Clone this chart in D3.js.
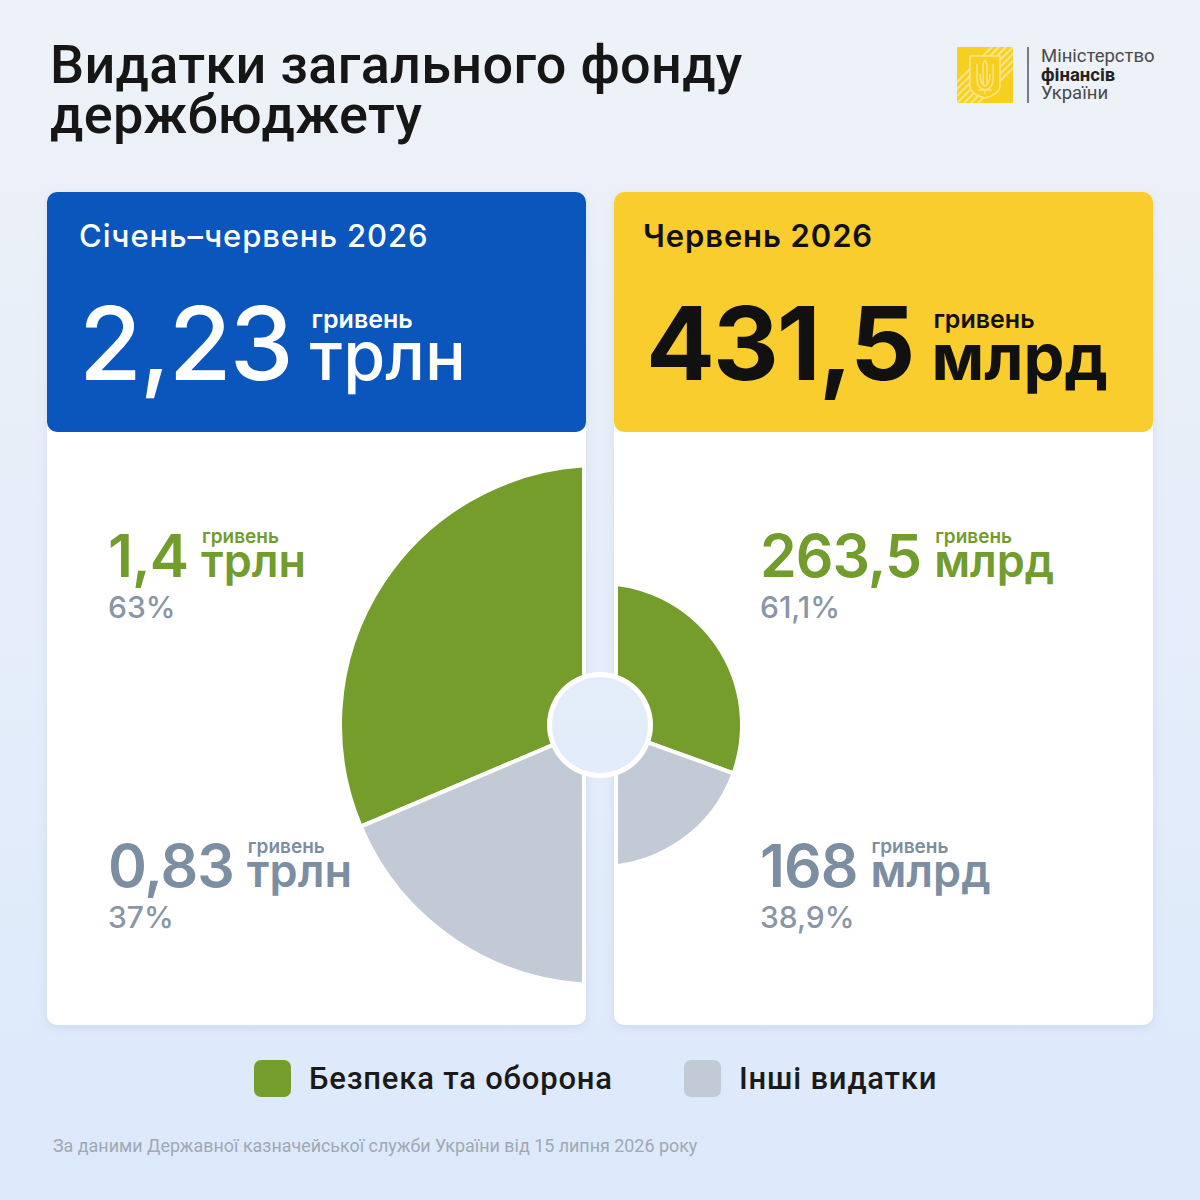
<!DOCTYPE html>
<html lang="uk">
<head>
<meta charset="utf-8">
<script src="https://cdn.jsdelivr.net/npm/d3@7"></script>
<style>
  body { margin: 0; background: #e6eefa; }
  svg { display: block; }
</style>
</head>
<body>
<svg id="chart" width="1200" height="1200"></svg>
<script>
const titleLines = ["Видатки загального фонду", "держбюджету"];
const periods = ["Січень–червень 2026", "Червень 2026"];
const totals = ["2,23", "431,5"];
const units = ["трлн", "млрд"];
const currency = "гривень";
const categories = ["Безпека та оборона", "Інші видатки"];
const halfYearValues = [1.4, 0.83];
const halfYearLabels = ["1,4", "0,83"];
const halfYearShares = ["63%", "37%"];
const juneValues = [263.5, 168];
const juneLabels = ["263,5", "168"];
const juneShares = ["61,1%", "38,9%"];
const ministry = ["Міністерство", "фінансів", "України"];
const source = "За даними Державної казначейської служби України від 15 липня 2026 року";

const width = 1200, height = 1200;
const svg = d3.select("#chart").attr("viewBox", [0, 0, width, height]);
const defs = svg.append("defs");

// page background gradient (also reused for the hole in the middle)
const bg = defs.append("linearGradient")
  .attr("id", "bg")
  .attr("gradientUnits", "userSpaceOnUse")
  .attr("x1", 0).attr("y1", 0).attr("x2", 0).attr("y2", height);
bg.append("stop").attr("offset", 0).attr("stop-color", "#eef2f8");
bg.append("stop").attr("offset", 1).attr("stop-color", "#dce9fb");

const shadow = defs.append("filter").attr("id", "shadow")
  .attr("x", -0.1).attr("y", -0.1).attr("width", 1.2).attr("height", 1.2);
shadow.append("feDropShadow")
  .attr("dx", 0).attr("dy", 3).attr("stdDeviation", 5)
  .attr("flood-color", "#8fa6c4").attr("flood-opacity", 0.22);

svg.append("rect").attr("width", width).attr("height", height).attr("fill", "url(#bg)");

const sliceColor = d3.scaleOrdinal().domain(categories).range(["#759d2c", "#c1cad5"]);
const textColor = d3.scaleOrdinal().domain(categories).range(["#729c2c", "#7c8ea2"]);

// ---- title ----
svg.append("g")
  .selectAll("text")
  .data(titleLines)
  .join("text")
  .attr("x", 50)
  .attr("y", (d, i) => 83 + i * 50)
  .attr("font-family", "Roboto, sans-serif")
  .attr("font-weight", 500)
  .attr("font-size", 54)
  .attr("letter-spacing", 0.3)
  .attr("fill", "#161616")
  .text((d) => d);

// ---- ministry logo ----
const logo = svg.append("g");
defs.append("clipPath").attr("id", "logoClip")
  .append("rect").attr("x", 957).attr("y", 47).attr("width", 56).attr("height", 56);
logo.append("rect").attr("x", 957).attr("y", 47).attr("width", 56).attr("height", 56)
  .attr("fill", "#f6cf1f");
logo.append("g").attr("clip-path", "url(#logoClip)")
  .selectAll("line")
  .data(d3.range(-3, 4))
  .join("line")
  .attr("x1", (d) => 957 + d * 7).attr("y1", 103)
  .attr("x2", (d) => 1013 + d * 7).attr("y2", 47)
  .attr("stroke", "#fbe489").attr("stroke-width", 2.2);
logo.append("path")
  .attr("d", "M970,56 H1000 V86 Q1000,94 985,98 Q970,94 970,86 Z")
  .attr("fill", "#f6cf1f").attr("stroke", "#fbe489").attr("stroke-width", 1.6);
logo.append("path")
  .attr("d", "M985,60 L983,64 V84 M985,60 L987,64 V84 M977,64 V80 Q977,88 985,90 Q993,88 993,80 V64 M980,74 Q980,84 985,86 Q990,84 990,74 M978,90 H992 M985,90 V94")
  .attr("fill", "none").attr("stroke", "#fbe489").attr("stroke-width", 1.5);
logo.append("line")
  .attr("x1", 1028).attr("x2", 1028).attr("y1", 47).attr("y2", 103)
  .attr("stroke", "#555").attr("stroke-width", 1.5);
logo.selectAll("text")
  .data(ministry)
  .join("text")
  .attr("x", 1041)
  .attr("y", (d, i) => 62 + i * 18.5)
  .attr("font-family", "Roboto, sans-serif")
  .attr("font-size", 18.5)
  .attr("font-weight", (d, i) => (i === 1 ? 700 : 400))
  .attr("fill", (d, i) => (i === 1 ? "#222" : "#4a4a4a"))
  .text((d) => d);

// ---- two panels ----
const panels = [
  {
    x: 47, w: 539, pad: 32, head: "#0a56bc", ink: "#ffffff", numWeight: 500, periodWeight: 500,
    period: periods[0], total: totals[0], unit: units[0],
    values: halfYearValues, labels: halfYearLabels, shares: halfYearShares,
    start: 0, end: -Math.PI, radius: 260, clipX: [47, 582], labelX: 108,
  },
  {
    x: 614, w: 539, pad: 29, head: "#facd2f", ink: "#111111", numWeight: 700, periodWeight: 600,
    period: periods[1], total: totals[1], unit: units[1],
    values: juneValues, labels: juneLabels, shares: juneShares,
    start: 0, end: Math.PI, radius: 142, clipX: [618, 1153], labelX: 760,
  },
];

const cardTop = 192, headBottom = 432, cardBottom = 1025;
const center = [600, 725];

panels.forEach((p, k) => {
  const g = svg.append("g");

  // white card and coloured header
  g.append("rect")
    .attr("x", p.x).attr("y", cardTop).attr("width", p.w).attr("height", cardBottom - cardTop)
    .attr("rx", 10).attr("fill", "#fff").attr("filter", "url(#shadow)");
  g.append("rect")
    .attr("x", p.x).attr("y", cardTop).attr("width", p.w).attr("height", headBottom - cardTop)
    .attr("rx", 10).attr("fill", p.head);

  g.append("text")
    .attr("x", p.x + p.pad).attr("y", 247)
    .attr("font-family", "Inter, sans-serif")
    .attr("font-weight", p.periodWeight)
    .attr("font-size", 31)
    .attr("letter-spacing", 0.9)
    .attr("fill", p.ink)
    .text(p.period);

  const big = g.append("text")
    .attr("x", p.x + 32).attr("y", 380)
    .attr("font-family", "Inter, sans-serif")
    .attr("font-weight", p.numWeight)
    .attr("font-size", 102)
    .attr("letter-spacing", -2)
    .attr("fill", p.ink)
    .text(p.total);
  const ux = p.x + 32 + big.node().getComputedTextLength() + 20;
  g.append("text")
    .attr("x", ux).attr("y", 328)
    .attr("font-family", "Inter, sans-serif")
    .attr("font-weight", 600).attr("font-size", 25)
    .attr("fill", p.ink)
    .text(currency);
  g.append("text")
    .attr("x", ux - 2).attr("y", 380)
    .attr("font-family", "Inter, sans-serif")
    .attr("font-weight", p.numWeight).attr("font-size", k === 0 ? 68 : 65)
    .attr("fill", p.ink)
    .text(p.unit);

  // half pie, clipped so the gap between the cards stays open
  defs.append("clipPath").attr("id", "clip" + k)
    .append("rect")
    .attr("x", p.clipX[0]).attr("y", headBottom)
    .attr("width", p.clipX[1] - p.clipX[0]).attr("height", cardBottom - headBottom);

  const pie = d3.pie().sort(null).startAngle(p.start).endAngle(p.end);
  const arc = d3.arc().innerRadius(0).outerRadius(p.radius);
  g.append("g")
    .attr("clip-path", `url(#clip${k})`)
    .append("g")
    .attr("transform", `translate(${center})`)
    .selectAll("path")
    .data(pie(p.values))
    .join("path")
    .attr("d", arc)
    .attr("fill", (d, i) => sliceColor(categories[i]))
    .attr("stroke", "#fff")
    .attr("stroke-width", 4)
    .attr("stroke-linejoin", "round");

  // value labels
  const rows = g.selectAll("g.label")
    .data(p.values.map((v, i) => ({ i, label: p.labels[i], share: p.shares[i] })))
    .join("g")
    .attr("class", "label")
    .attr("transform", (d) => `translate(${p.labelX},${577 + d.i * 310})`);

  rows.each(function (d) {
    const row = d3.select(this);
    const col = textColor(categories[d.i]);
    const num = row.append("text")
      .attr("font-family", "Inter, sans-serif")
      .attr("font-weight", 600).attr("font-size", 59)
      .attr("letter-spacing", -1)
      .attr("fill", col)
      .text(d.label);
    const x = num.node().getComputedTextLength() + 14;
    row.append("text")
      .attr("x", x).attr("y", -34)
      .attr("font-family", "Inter, sans-serif")
      .attr("font-weight", 600).attr("font-size", 19)
      .attr("fill", col)
      .text(currency);
    row.append("text")
      .attr("x", x - 1).attr("y", 0)
      .attr("font-family", "Inter, sans-serif")
      .attr("font-weight", 600).attr("font-size", 45)
      .attr("fill", col)
      .text(p.unit);
    row.append("text")
      .attr("y", 41)
      .attr("font-family", "Inter, sans-serif")
      .attr("font-weight", 500).attr("font-size", 30)
      .attr("fill", "#8a96a4")
      .text(d.share);
  });
});

// hole in the middle
svg.append("circle").attr("cx", center[0]).attr("cy", center[1]).attr("r", 53).attr("fill", "#fff");
svg.append("circle").attr("cx", center[0]).attr("cy", center[1]).attr("r", 48).attr("fill", "url(#bg)");

// ---- legend ----
const legend = svg.append("g")
  .selectAll("g")
  .data(categories)
  .join("g")
  .attr("transform", (d, i) => `translate(${[254, 684][i]},1060)`);
legend.append("rect")
  .attr("width", 37).attr("height", 37).attr("rx", 7)
  .attr("fill", (d) => sliceColor(d));
legend.append("text")
  .attr("x", 55).attr("y", 29)
  .attr("font-family", "Roboto, sans-serif")
  .attr("font-weight", 500).attr("font-size", 31)
  .attr("letter-spacing", 0.8)
  .attr("fill", "#1a1a1a")
  .text((d) => d);

// ---- source note ----
svg.append("text")
  .attr("x", 53).attr("y", 1152)
  .attr("font-family", "Roboto, sans-serif")
  .attr("font-size", 17.9)
  .attr("fill", "#a0a8b3")
  .text(source);
</script>
</body>
</html>
